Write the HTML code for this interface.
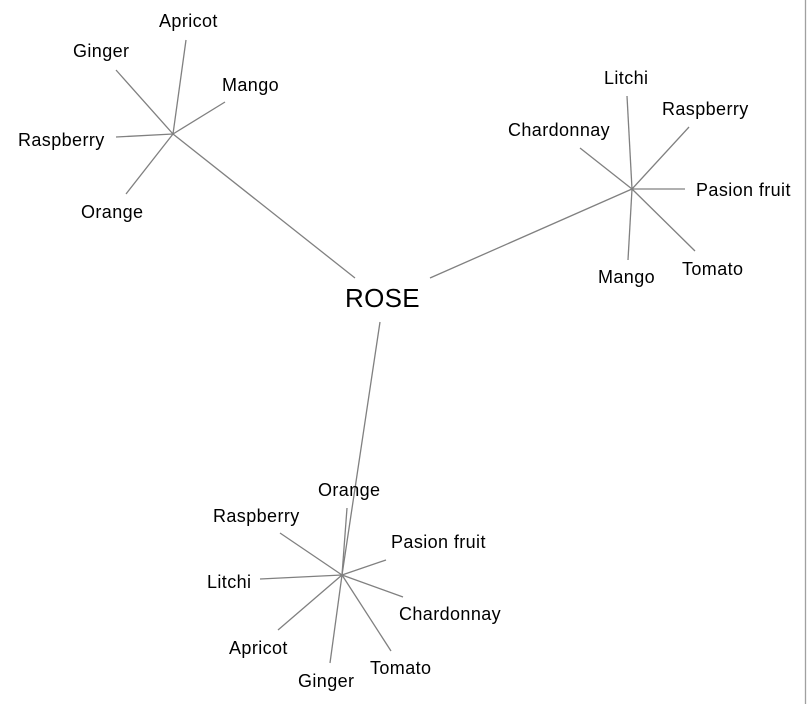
<!DOCTYPE html>
<html><head><meta charset="utf-8"><style>
html,body{margin:0;padding:0;background:#fff;}
svg{display:block;}
text{font-family:"Liberation Sans",Arial,sans-serif;font-size:18px;letter-spacing:0.4px;fill:#000;}
</style></head><body>
<svg width="807" height="704" viewBox="0 0 807 704" xmlns="http://www.w3.org/2000/svg">
<rect width="807" height="704" fill="#fff"/>
<g stroke="#808080" stroke-width="1.3" fill="none">
<line x1="805.5" y1="0" x2="805.5" y2="704" stroke="#a0a0a0"/>
<line x1="173" y1="134" x2="355" y2="278"/>
<line x1="173" y1="134" x2="186" y2="40"/>
<line x1="173" y1="134" x2="116" y2="70"/>
<line x1="173" y1="134" x2="225" y2="102"/>
<line x1="173" y1="134" x2="116" y2="137"/>
<line x1="173" y1="134" x2="126" y2="194"/>
<line x1="632" y1="189" x2="430" y2="278"/>
<line x1="632" y1="189" x2="627" y2="96"/>
<line x1="632" y1="189" x2="689" y2="127"/>
<line x1="632" y1="189" x2="580" y2="148"/>
<line x1="632" y1="189" x2="685" y2="189"/>
<line x1="632" y1="189" x2="695" y2="251"/>
<line x1="632" y1="189" x2="628" y2="260"/>
<line x1="380" y1="322" x2="342" y2="575"/>
<line x1="342" y1="575" x2="347" y2="508"/>
<line x1="342" y1="575" x2="280" y2="533"/>
<line x1="342" y1="575" x2="386" y2="560"/>
<line x1="342" y1="575" x2="260" y2="579"/>
<line x1="342" y1="575" x2="403" y2="597"/>
<line x1="342" y1="575" x2="278" y2="630"/>
<line x1="342" y1="575" x2="391" y2="651"/>
<line x1="342" y1="575" x2="330" y2="663"/>
</g>
<text x="345" y="307" style="font-size:26px;letter-spacing:0.3px">ROSE</text>
<text x="159" y="27">Apricot</text>
<text x="73" y="57">Ginger</text>
<text x="222" y="91">Mango</text>
<text x="18" y="146">Raspberry</text>
<text x="81" y="218">Orange</text>
<text x="604" y="84">Litchi</text>
<text x="662" y="115">Raspberry</text>
<text x="508" y="136">Chardonnay</text>
<text x="696" y="196">Pasion fruit</text>
<text x="682" y="275">Tomato</text>
<text x="598" y="283">Mango</text>
<text x="318" y="496">Orange</text>
<text x="213" y="522">Raspberry</text>
<text x="391" y="548">Pasion fruit</text>
<text x="207" y="588">Litchi</text>
<text x="399" y="620">Chardonnay</text>
<text x="229" y="654">Apricot</text>
<text x="370" y="674">Tomato</text>
<text x="298" y="687">Ginger</text>
</svg>
</body></html>
